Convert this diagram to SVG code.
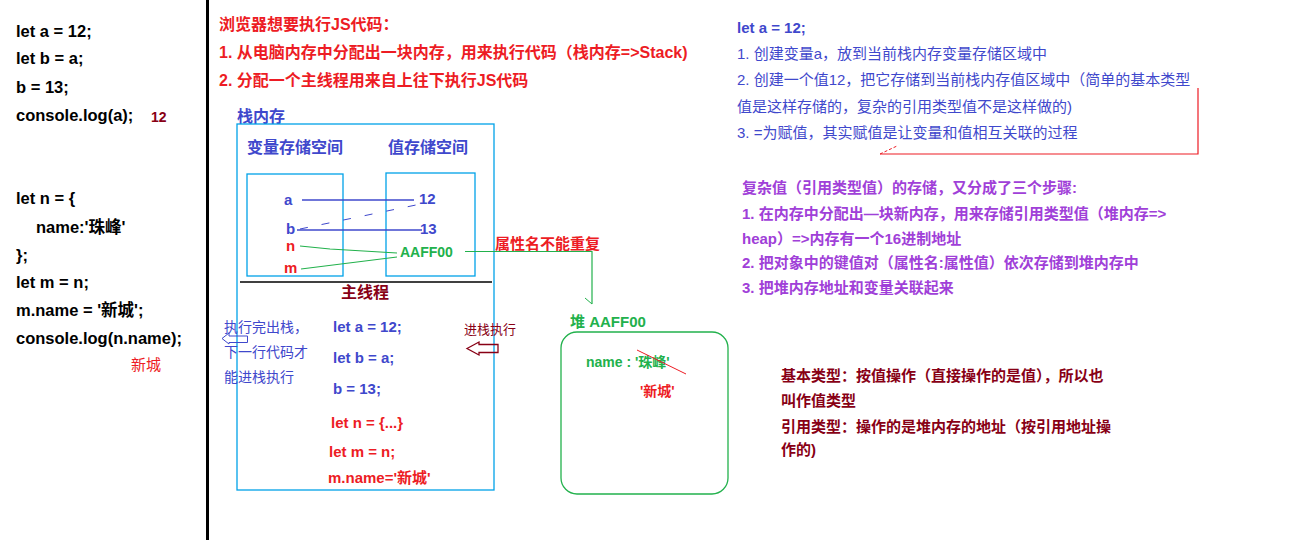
<svg xmlns="http://www.w3.org/2000/svg" width="1313" height="540" viewBox="0 0 1313 540">
<style>
text{font-family:"Liberation Sans","Noto Sans CJK SC",sans-serif;dominant-baseline:central;}
.b{font-weight:bold;}
.code{font-size:16.5px;font-weight:bold;fill:#000;}
.blue{fill:#3f48cc;}
.red{fill:#ed1c24;}
.dred{fill:#880015;}
.green{fill:#22b14c;}
.purple{fill:#a040d8;}
.f14{font-size:14px;}
.f15{font-size:15px;}
.f16{font-size:16px;}
.box{fill:none;stroke:#00a2e8;stroke-width:1.3;}
</style>
<rect width="1313" height="540" fill="#fff"/>
<g id="divider"><line x1="207.5" y1="0" x2="207.5" y2="540" stroke="#000" stroke-width="3"/></g>

<g id="left-code">
<text class="code" x="16" y="31">let a = 12;</text>
<text class="code" x="16" y="58">let b = a;</text>
<text class="code" x="16" y="87">b = 13;</text>
<text class="code" x="16" y="115">console.log(a);</text>
<text class="dred b f14" x="151" y="117">12</text>
<text class="code" x="16" y="198">let n = {</text>
<text class="code" x="36" y="227">name:'珠峰'</text>
<text class="code" x="16" y="255">};</text>
<text class="code" x="16" y="282">let m = n;</text>
<text class="code" x="16" y="310">m.name = '新城';</text>
<text class="code" x="16" y="338">console.log(n.name);</text>
<text class="red f15" x="131" y="364">新城</text>
</g>

<g id="heading">
<text class="red b f16" x="219" y="24">浏览器想要执行JS代码：</text>
<text class="red b f16" x="219" y="52">1. 从电脑内存中分配出一块内存，用来执行代码（栈内存=&gt;Stack)</text>
<text class="red b f16" x="219" y="80">2. 分配一个主线程用来自上往下执行JS代码</text>
</g>

<g id="stack">
<text class="blue b f16" x="237" y="116">栈内存</text>
<rect class="box" x="237" y="124" width="257" height="366"/>
<text class="blue b f16" x="247" y="147">变量存储空间</text>
<text class="blue b f16" x="388" y="147">值存储空间</text>
<rect class="box" x="247" y="174" width="96" height="102"/>
<rect class="box" x="386" y="173" width="89" height="103"/>
<line x1="240" y1="282" x2="492" y2="282" stroke="#000" stroke-width="1.3"/>
</g>

<g id="var-a"><text class="blue b f15" x="284" y="199">a</text></g>
<g id="var-b"><text class="blue b f15" x="286" y="228">b</text></g>
<g id="var-n"><text class="red b f15" x="286" y="245">n</text></g>
<g id="var-m"><text class="red b f15" x="284" y="267">m</text></g>
<g id="val-12"><text class="blue b f15" x="419" y="198">12</text></g>
<g id="val-13"><text class="blue b f15" x="420" y="228">13</text></g>
<g id="val-addr"><text class="green b f14" x="400" y="252">AAFF00</text></g>

<g id="main-thread">
<text class="dred b f16" x="341" y="292">主线程</text>
<text class="blue b f15" x="333" y="326">let a = 12;</text>
<text class="blue b f15" x="333" y="357">let b = a;</text>
<text class="blue b f15" x="333" y="388">b = 13;</text>
<text class="red b f15" x="331" y="422">let n = {...}</text>
<text class="red b f15" x="329" y="451">let m = n;</text>
<text class="red b f15" x="328" y="477">m.name='新城'</text>
</g>

<g id="pop-note">
<text class="blue f14" x="224" y="327">执行完出栈，</text>
<text class="blue f14" x="224" y="352">下一行代码才</text>
<text class="blue f14" x="224" y="377">能进栈执行</text>
<polygon points="222,338.5 229,333 229,336 247.5,336 247.5,342.5 229,342.5 229,344" fill="none" stroke="#3f48cc" stroke-width="1"/>
</g>

<g id="push-note">
<text class="dred f13" x="464" y="329" style="font-size:13px">进栈执行</text>
<polygon points="467,348.5 479,342 479,344.5 498,344.5 498,352.5 479,352.5 479,355" fill="none" stroke="#880015" stroke-width="1.3"/>
</g>

<g id="note-prop">
<text class="red b f15" x="495" y="243">属性名不能重复</text>
</g>

<g id="heap">
<text class="green b f15" x="570" y="321">堆 AAFF00</text>
<rect x="561" y="332" width="167" height="162" rx="16" ry="16" fill="none" stroke="#22b14c" stroke-width="1.3"/>
<text class="green b f14" x="586" y="362">name : '珠峰'</text>
<line x1="637" y1="350" x2="686" y2="374" stroke="#ed1c24" stroke-width="1"/>
<text class="red b f14" x="640" y="391">'新城'</text>
</g>

<g id="connectors" fill="none">
<line x1="302" y1="200" x2="414" y2="200" stroke="#3f48cc" stroke-width="1.3"/>
<line x1="297" y1="230" x2="422" y2="230" stroke="#3f48cc" stroke-width="1.3"/>
<line x1="300" y1="229" x2="416" y2="205" stroke="#3f48cc" stroke-width="1" stroke-dasharray="8 14"/>
<polyline points="300,246 330,249 397,253" stroke="#22b14c" stroke-width="1.2"/>
<polyline points="301,269 397,257" stroke="#22b14c" stroke-width="1.2"/>
<polyline points="465,251.5 592,251.5 592,304" stroke="#22b14c" stroke-width="1.2"/>
<line x1="585" y1="298" x2="592" y2="304" stroke="#22b14c" stroke-width="1"/>
<polyline points="1198,88 1198,154 880,154" stroke="#ed1c24" stroke-width="1.2"/>
<line x1="880" y1="154" x2="897" y2="146" stroke="#ed1c24" stroke-width="1" stroke-dasharray="3 2"/>
</g>

<g id="note-primitive">
<text class="blue b f15" x="737" y="27">let a = 12;</text>
<text class="blue f15" x="737" y="53">1. 创建变量a，放到当前栈内存变量存储区域中</text>
<text class="blue f15" x="737" y="79">2. 创建一个值12，把它存储到当前栈内存值区域中（简单的基本类型</text>
<text class="blue f15" x="737" y="106">值是这样存储的，复杂的引用类型值不是这样做的)</text>
<text class="blue f15" x="737" y="132">3. =为赋值，其实赋值是让变量和值相互关联的过程</text>
</g>

<g id="note-complex">
<text class="purple b f15" x="742" y="187">复杂值（引用类型值）的存储，又分成了三个步骤:</text>
<text class="purple b f15" x="742" y="213">1. 在内存中分配出—块新内存，用来存储引用类型值（堆内存=&gt;</text>
<text class="purple b f15" x="742" y="238">heap）=&gt;内存有一个16进制地址</text>
<text class="purple b f15" x="742" y="262">2. 把对象中的键值对（属性名:属性值）依次存储到堆内存中</text>
<text class="purple b f15" x="742" y="287">3. 把堆内存地址和变量关联起来</text>
</g>

<g id="note-types">
<text class="dred b f15" x="781" y="375">基本类型：按值操作（直接操作的是值），所以也</text>
<text class="dred b f15" x="781" y="400">叫作值类型</text>
<text class="dred b f15" x="781" y="426">引用类型：操作的是堆内存的地址（按引用地址操</text>
<text class="dred b f15" x="781" y="449">作的)</text>
</g>
</svg>
